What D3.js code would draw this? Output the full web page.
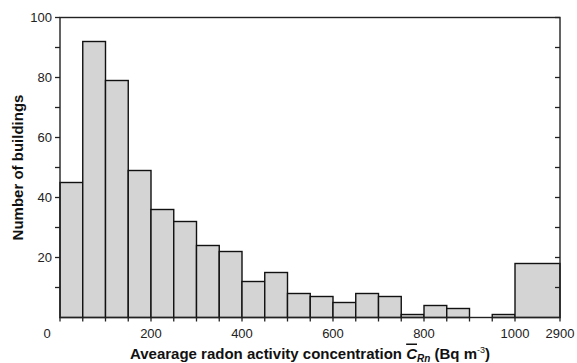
<!DOCTYPE html>
<html>
<head>
<meta charset="utf-8">
<script src="https://cdn.jsdelivr.net/npm/d3@7"></script>
<style>
  body { margin: 0; background: #fff; }
  svg { display: block; font-family: "Liberation Sans", Arial, sans-serif; }
  .tick-label { font-size: 13px; fill: #222; }
  .axis-title { font-size: 15px; font-weight: bold; fill: #111; }
</style>
</head>
<body>
<svg id="chart" width="577" height="363"></svg>
<script>
// bin edges (Bq m-3) and number of buildings per bin
const binEdges = [0, 50, 100, 150, 200, 250, 300, 350, 400, 450, 500,
  550, 600, 650, 700, 750, 800, 850, 900, 950, 1000, 2900];
const counts = [45, 92, 79, 49, 36, 32, 24, 22, 12, 15, 8,
  7, 5, 8, 7, 1, 4, 3, 0, 1, 18];

const xTickLabels = [0, 200, 400, 600, 800, 1000, 2900];
const yTickLabels = [20, 40, 60, 80, 100];

const M = { left: 60, right: 17, top: 17.5, bottom: 45.5 };
const W = 577, H = 363;
const svg = d3.select("#chart");

// axis is broken after 1000: last bin squeezed to two bin widths
const x = d3.scaleLinear().domain([0, 1000, 2900]).range([M.left, 515, W - M.right]);
const y = d3.scaleLinear().domain([0, 100]).range([H - M.bottom, M.top]);

const bins = counts.map((c, i) => ({ x0: binEdges[i], x1: binEdges[i + 1], n: c }));

svg.append("g").selectAll("rect")
  .data(bins.filter(d => d.n > 0))
  .join("rect")
  .attr("x", d => x(d.x0))
  .attr("y", d => y(d.n))
  .attr("width", d => x(d.x1) - x(d.x0))
  .attr("height", d => y(0) - y(d.n))
  .attr("fill", "#d4d4d4")
  .attr("stroke", "#111")
  .attr("stroke-width", 1.4);

// frame
svg.append("rect")
  .attr("x", x(0)).attr("y", y(100))
  .attr("width", x(2900) - x(0)).attr("height", y(0) - y(100))
  .attr("fill", "none").attr("stroke", "#222").attr("stroke-width", 1.4);

// y ticks: outward on left, inward on right, every 10
const yTicks = d3.range(10, 101, 10);
const tk = svg.append("g").attr("stroke", "#222").attr("stroke-width", 1.3);
yTicks.forEach(v => {
  tk.append("line").attr("x1", x(0) - 5).attr("x2", x(0)).attr("y1", y(v)).attr("y2", y(v));
  tk.append("line").attr("x1", x(2900) - 5).attr("x2", x(2900)).attr("y1", y(v)).attr("y2", y(v));
});
// x ticks every 50 up to 1000, plus the end
binEdges.forEach(v => {
  tk.append("line").attr("x1", x(v)).attr("x2", x(v)).attr("y1", y(0)).attr("y2", y(0) + 4);
});

svg.append("g").selectAll("text")
  .data(yTickLabels)
  .join("text")
  .attr("class", "tick-label")
  .attr("x", x(0) - 8)
  .attr("y", d => y(d) + 4.5)
  .attr("text-anchor", "end")
  .text(d => d);

svg.append("g").selectAll("text")
  .data(xTickLabels)
  .join("text")
  .attr("class", "tick-label")
  .attr("x", d => d === 0 ? x(0) - 13 : x(d))
  .attr("y", y(0) + 20)
  .attr("text-anchor", "middle")
  .text(d => d);

// axis titles
svg.append("text")
  .attr("class", "axis-title")
  .attr("transform", `translate(23,${(y(0) + y(100)) / 2}) rotate(-90)`)
  .attr("text-anchor", "middle")
  .text("Number of buildings");

const xt = svg.append("text")
  .attr("class", "axis-title")
  .attr("x", (x(0) + x(2900)) / 2)
  .attr("y", 358.5)
  .attr("text-anchor", "middle");
xt.append("tspan").text("Avearage radon activity concentration ");
xt.append("tspan").attr("font-style", "italic").attr("text-decoration", "overline").text("C");
xt.append("tspan").attr("font-style", "italic").attr("font-size", "10px").attr("dy", 3).text("Rn");
xt.append("tspan").attr("dy", -3).text(" (Bq m");
xt.append("tspan").attr("font-size", "9px").attr("font-weight", "normal").attr("dy", -6).text("-3");
xt.append("tspan").attr("dy", 6).text(")");
</script>
</body>
</html>
